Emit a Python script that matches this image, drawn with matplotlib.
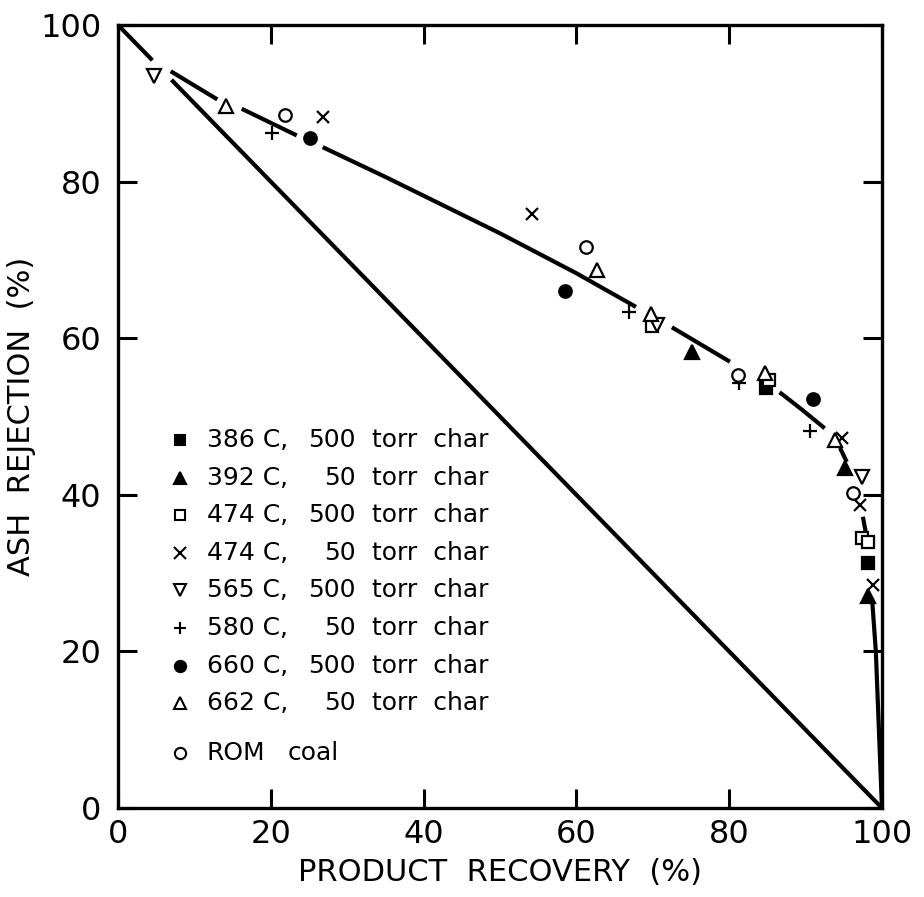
import numpy as np
import matplotlib
matplotlib.use("Agg")
import matplotlib.pyplot as plt

nan = np.nan

# data: (product recovery %, ash rejection %)
c386_500_x = [84.8, 98.2]
c386_500_y = [53.6, 31.3]
c392_50_x = [75.1, 95.2, 98.2]
c392_50_y = [58.2, 43.4, 27.1]
c474_500_x = [69.9, 85.2, 97.4, 98.2]
c474_500_y = [61.6, 54.7, 34.5, 34.0]
c474_50_x = [26.8, 54.2, 94.8, 97.1, 98.8]
c474_50_y = [88.3, 75.9, 47.3, 38.7, 28.5]
c565_500_x = [4.7, 70.5, 97.4]
c565_500_y = [93.5, 61.7, 42.3]
c580_50_x = [20.2, 66.9, 81.3, 90.6]
c580_50_y = [86.2, 63.3, 54.3, 48.1]
c660_500_x = [25.1, 58.5, 91.0]
c660_500_y = [85.6, 66.0, 52.2]
c662_50_x = [14.1, 62.7, 69.8, 84.7, 93.8]
c662_50_y = [89.7, 68.7, 63.1, 55.6, 47.0]
rom_x = [21.9, 61.3, 81.2, 96.2]
rom_y = [88.5, 71.6, 55.3, 40.2]

# no-cleaning diagonal and fitted curve (nan = gap in the drawn line)
diag_x = [0, 4.5, nan, 7.0, 100]
diag_y = [100, 95.5, nan, 93.0, 0]
curve_x = [6.9, 13.0, nan, 16.2, 23.4, nan, 26.8, 35, 40, 50, 60, 67.8, nan,
           72.5, 80.1, nan, 86.6, 89.5, 92.5, nan, 94.5, 95.4, nan, 97.5, 98.0,
           nan, 98.7, 99.2, 99.6, 100]
curve_y = [94.1, 90.5, nan, 89.3, 85.9, nan, 84.4, 80.6, 78.2, 73.4, 68.3, 64.0, nan,
           61.4, 57.0, nan, 53.1, 50.9, 48.5, nan, 46.0, 44.2, nan, 37.2, 34.6,
           nan, 26.8, 20.0, 10.0, 0]

series = [
    (c386_500_x, c386_500_y, "s", True, 8, "386 C,", "500", "torr  char"),
    (c392_50_x, c392_50_y, "^", True, 10, "392 C,", "50", "torr  char"),
    (c474_500_x, c474_500_y, "s", False, 8, "474 C,", "500", "torr  char"),
    (c474_50_x, c474_50_y, "x", False, 9, "474 C,", "50", "torr  char"),
    (c565_500_x, c565_500_y, "v", False, 10, "565 C,", "500", "torr  char"),
    (c580_50_x, c580_50_y, "+", False, 10, "580 C,", "50", "torr  char"),
    (c660_500_x, c660_500_y, "o", True, 9, "660 C,", "500", "torr  char"),
    (c662_50_x, c662_50_y, "^", False, 10, "662 C,", "50", "torr  char"),
    (rom_x, rom_y, "o", False, 9, "ROM", "", "coal"),
]

plt.rcParams['font.family'] = ['DejaVu Sans']

fig = plt.figure(figsize=(9.24, 8.97), dpi=100)
ax = fig.add_axes([0.1277, 0.0992, 0.8268, 0.8729])

ax.plot(diag_x, diag_y, color="black", lw=3, solid_capstyle="butt", zorder=2)
ax.plot(curve_x, curve_y, color="black", lw=3, solid_capstyle="butt", zorder=2)

for xs, ys, mk, filled, ms, a, b, c in series:
    ax.plot(xs, ys, linestyle="none", marker=mk, markersize=ms,
            markerfacecolor="black" if filled else "white",
            markeredgecolor="black", markeredgewidth=1.6, zorder=3)

# legend drawn by hand so the ROM row can sit a bit lower
row_y = 0.470
for i, (xs, ys, mk, filled, ms, a, b, c) in enumerate(series):
    y = row_y - i * 0.048
    if i == len(series) - 1:
        y -= 0.016
    ax.plot([0.081], [y], transform=ax.transAxes, marker=mk,
            markersize=ms * 0.9, markerfacecolor="black" if filled else "white",
            markeredgecolor="black", markeredgewidth=1.5, clip_on=False)
    ax.text(0.116, y, a, transform=ax.transAxes, fontsize=18, va="center", ha="left")
    if b:
        ax.text(0.311, y, b, transform=ax.transAxes, fontsize=18, va="center", ha="right")
        ax.text(0.333, y, c, transform=ax.transAxes, fontsize=18, va="center", ha="left")
    else:
        ax.text(0.222, y, c, transform=ax.transAxes, fontsize=18, va="center", ha="left")

ax.set_xlim(0, 100)
ax.set_ylim(0, 100)
ax.set_xticks([0, 20, 40, 60, 80, 100])
ax.set_yticks([0, 20, 40, 60, 80, 100])
ax.tick_params(direction="in", length=14, width=2.2, top=True, right=True,
               labelsize=23)
ax.tick_params(axis="y", pad=12)
ax.tick_params(axis="x", pad=8)
for s in ax.spines.values():
    s.set_linewidth(2.4)

ax.set_xlabel("PRODUCT  RECOVERY  (%)", fontsize=22, labelpad=6)
ax.set_ylabel("ASH  REJECTION  (%)", fontsize=22, labelpad=3)

fig.savefig("out.png", dpi=100)
